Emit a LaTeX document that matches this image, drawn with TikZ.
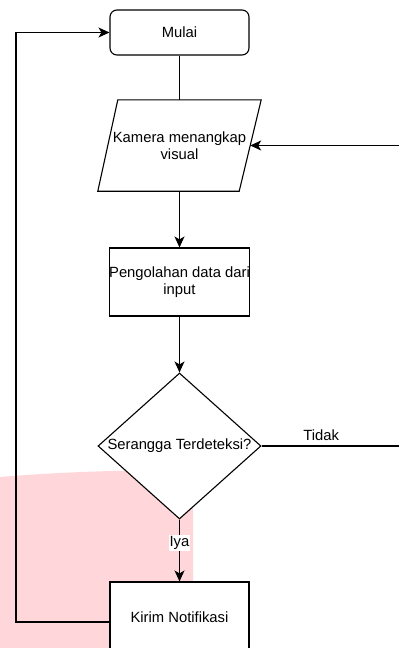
\documentclass[tikz,border=0pt]{standalone}
\usepackage{fontspec}
\setmainfont{Liberation Sans}
\usetikzlibrary{arrows.meta,shapes.geometric}
\definecolor{pinkbg}{RGB}{255,215,218}
\begin{document}
\begin{tikzpicture}[x=1pt,y=-1pt,
  every node/.style={font=\fontsize{14.8}{16.5}\selectfont, text=black},
  box/.style={draw=black, fill=white, line width=1.1pt, minimum width=139pt, minimum height=68pt, inner sep=0pt, align=center},
  decision/.style={diamond, draw=black, fill=white, line width=1.1pt, aspect=1.116, inner sep=0pt, minimum width=163pt, minimum height=146pt},
  plain/.style={line width=1.1pt, draw=black},
  arr/.style={line width=1.1pt, draw=black, -{Stealth[length=11pt,width=10pt,inset=3pt]}},
  lbl/.style={fill=white, inner sep=1pt}
]
\useasboundingbox (0,0) rectangle (399,648);
% background pink patch
\fill[pinkbg] (0,477) .. controls (60,472) and (120,470) .. (193,470) -- (193,648) -- (0,648) -- cycle;

% nodes
\node[box, rounded corners=7pt, minimum height=45pt] (mulai) at (179.5,32.5) {Mulai};
\node[inner sep=0pt, minimum width=163pt, minimum height=91pt, align=center] (par) at (179.5,145.5) {Kamera menangkap\\visual};
\draw[plain] ([xshift=20pt]par.north west) -- (par.north east) -- ([xshift=-22pt]par.south east) -- (par.south west) -- cycle;
\node[box] (proc) at (179.5,282) {Pengolahan data dari\\input};
\node[decision] (dec) at (179.5,446) {Serangga Terdeteksi?};
\node[box, minimum height=70pt] (kirim) at (179.5,617) {Kirim Notifikasi};

% connectors
\draw[plain] (mulai.south) -- (mulai.south |- par.north);
\draw[arr] (proc.north |- par.south) -- (proc.north);
\draw[arr] (proc.south) -- (dec.north);
\draw[arr] (dec.south) -- node[lbl, pos=0.38] {Iya} (kirim.north);

\coordinate (rin) at (399,145.5);
\coordinate (pr) at ([xshift=-11pt]par.east);
\draw[arr] (rin) -- (pr);

\coordinate (tout) at (399,446);
\draw[plain] (dec.east) -- node[pos=0.434, above=5pt, inner sep=0pt] {Tidak} (tout);

\coordinate (kl) at ([yshift=-5pt]kirim.west);
\coordinate (lx) at (16,0);
\draw[arr] (kl) -| (lx |- mulai.west) -- (mulai.west);
\end{tikzpicture}
\end{document}
